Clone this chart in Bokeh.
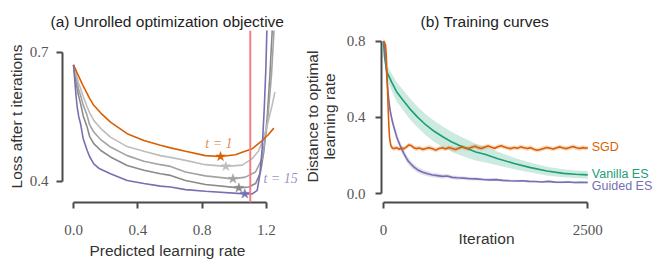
from bokeh.plotting import figure
from bokeh.layouts import row
from bokeh.models import Label, Span, FixedTicker, Range1d, NumeralTickFormatter, Title
from bokeh.embed import file_html
from bokeh.resources import INLINE

# ---------------- Panel (a): unrolled optimization objective ----------------
optimal_lr = 1.1

lr_t1 = [0, 0.01, 0.023, 0.044, 0.06, 0.085, 0.1, 0.126, 0.17, 0.23, 0.334, 0.438, 0.541, 0.604, 0.697, 0.821, 0.915, 1.008, 1.05, 1.112, 1.174, 1.21, 1.247]
loss_t1 = [0.671, 0.663, 0.652, 0.635, 0.622, 0.604, 0.593, 0.577, 0.559, 0.538, 0.511, 0.495, 0.484, 0.478, 0.470, 0.460, 0.458, 0.462, 0.468, 0.476, 0.495, 0.508, 0.524]

lr_ta = [0, 0.01, 0.023, 0.03, 0.044, 0.06, 0.085, 0.1, 0.126, 0.17, 0.23, 0.334, 0.438, 0.541, 0.604, 0.697, 0.821, 0.948, 1.05, 1.112, 1.15, 1.174, 1.205, 1.236, 1.253]
loss_ta = [0.671, 0.660, 0.640, 0.630, 0.616, 0.598, 0.573, 0.560, 0.542, 0.523, 0.503, 0.481, 0.470, 0.460, 0.456, 0.449, 0.439, 0.435, 0.438, 0.453, 0.470, 0.491, 0.530, 0.577, 0.608]

lr_tb = [0, 0.01, 0.023, 0.03, 0.044, 0.06, 0.085, 0.1, 0.126, 0.17, 0.23, 0.334, 0.438, 0.541, 0.604, 0.697, 0.821, 0.992, 1.07, 1.133, 1.174, 1.205, 1.232, 1.247, 1.255]
loss_tb = [0.671, 0.655, 0.630, 0.617, 0.600, 0.578, 0.553, 0.532, 0.515, 0.497, 0.480, 0.460, 0.447, 0.439, 0.435, 0.422, 0.413, 0.406, 0.410, 0.422, 0.453, 0.530, 0.647, 0.747, 0.80]

lr_tc = [0, 0.01, 0.023, 0.03, 0.044, 0.06, 0.085, 0.1, 0.126, 0.17, 0.23, 0.334, 0.438, 0.541, 0.604, 0.697, 0.821, 1.029, 1.091, 1.133, 1.164, 1.184, 1.205, 1.222, 1.236, 1.242]
loss_tc = [0.671, 0.645, 0.615, 0.602, 0.581, 0.553, 0.526, 0.505, 0.488, 0.472, 0.457, 0.437, 0.426, 0.418, 0.414, 0.402, 0.393, 0.385, 0.387, 0.395, 0.422, 0.468, 0.546, 0.647, 0.747, 0.80]

lr_t15 = [0, 0.005, 0.01, 0.016, 0.023, 0.033, 0.044, 0.06, 0.085, 0.1, 0.126, 0.16, 0.23, 0.334, 0.438, 0.541, 0.604, 0.697, 0.821, 1.066, 1.112, 1.143, 1.159, 1.174, 1.187, 1.197, 1.203, 1.207]
loss_t15 = [0.671, 0.648, 0.625, 0.598, 0.573, 0.550, 0.534, 0.500, 0.472, 0.458, 0.441, 0.430, 0.418, 0.402, 0.395, 0.389, 0.387, 0.381, 0.377, 0.371, 0.371, 0.379, 0.414, 0.476, 0.569, 0.662, 0.747, 0.80]

star_lr = [0.915, 0.948, 0.992, 1.029, 1.066]
star_loss = [0.458, 0.435, 0.406, 0.385, 0.371]

# ---------------- Panel (b): training curves ----------------
sgd_it = [0, 10, 25, 35, 45, 55, 65, 75, 90, 110, 130, 160, 190, 220, 250, 280, 310, 340, 370, 400,
          440, 480, 520, 560, 600, 640, 680, 720, 760, 800, 840, 880, 920, 960, 1000, 1040, 1080, 1120,
          1160, 1200, 1240, 1280, 1320, 1360, 1400, 1440, 1480, 1520, 1560, 1600, 1640, 1680, 1720,
          1760, 1800, 1840, 1880, 1920, 1960, 2000, 2040, 2080, 2120, 2160, 2200, 2240, 2280, 2320,
          2360, 2400, 2440, 2480, 2500]
sgd_dist = [0.80, 0.795, 0.78, 0.72, 0.60, 0.47, 0.36, 0.29, 0.252, 0.238, 0.236, 0.241, 0.233, 0.238, 0.236, 0.244, 0.255, 0.252, 0.241, 0.236,
            0.239, 0.232, 0.237, 0.241, 0.235, 0.228, 0.236, 0.240, 0.234, 0.242, 0.236, 0.231, 0.238, 0.244, 0.239, 0.236, 0.243, 0.248,
            0.241, 0.237, 0.244, 0.250, 0.243, 0.238, 0.246, 0.251, 0.244, 0.239, 0.236, 0.242, 0.238, 0.245, 0.240,
            0.236, 0.241, 0.233, 0.227, 0.231, 0.237, 0.242, 0.238, 0.234, 0.240, 0.245, 0.239, 0.236, 0.242, 0.247,
            0.240, 0.236, 0.241, 0.238, 0.240]
sgd_spread = 0.012

vanilla_it = [0, 12, 40, 100, 160, 240, 320, 420, 520, 620, 730, 830, 930, 1030, 1130, 1250, 1400, 1600, 1800, 2000, 2200, 2350, 2500]
vanilla_dist = [0.80, 0.72, 0.64, 0.585, 0.535, 0.49, 0.446, 0.40, 0.36, 0.327, 0.297, 0.272, 0.252, 0.235, 0.218, 0.205, 0.183, 0.158, 0.136, 0.118, 0.106, 0.101, 0.098]
vanilla_spread = [0.02, 0.03, 0.035, 0.045, 0.05, 0.053, 0.055, 0.055, 0.055, 0.055, 0.054, 0.052, 0.05, 0.048, 0.044, 0.042, 0.036, 0.03, 0.026, 0.023, 0.021, 0.02, 0.02]

guided_it = [0, 15, 30, 50, 65, 80, 100, 120, 140, 160, 180, 200, 225, 250, 275, 300, 335, 370, 420, 480, 540, 600, 660, 720,
             780, 840, 900, 980, 1060, 1140, 1220, 1300, 1380, 1460, 1540, 1620, 1700, 1780, 1860, 1940, 2020, 2100, 2180, 2260, 2340, 2420, 2500]
guided_dist = [0.80, 0.77, 0.68, 0.56, 0.49, 0.44, 0.395, 0.36, 0.33, 0.30, 0.277, 0.256, 0.232, 0.21, 0.19, 0.172, 0.155, 0.14, 0.124, 0.112, 0.104, 0.097, 0.094, 0.090,
               0.092, 0.085, 0.083, 0.081, 0.078, 0.077, 0.074, 0.072, 0.073, 0.069, 0.067, 0.066, 0.067, 0.064, 0.063, 0.061, 0.064, 0.060, 0.059, 0.061, 0.058, 0.059, 0.058]
guided_spread = [0.01, 0.012, 0.015, 0.018, 0.02, 0.02, 0.02, 0.02, 0.02, 0.02, 0.02, 0.02, 0.02, 0.02, 0.019, 0.018, 0.017, 0.016, 0.015, 0.014, 0.013, 0.012, 0.012, 0.011,
                 0.011, 0.01, 0.01, 0.009, 0.009, 0.008, 0.008, 0.008, 0.007, 0.007, 0.007, 0.007, 0.006, 0.006, 0.006, 0.006, 0.006, 0.006, 0.006, 0.006, 0.006, 0.006, 0.006]

ORANGE = "#d95f02"
GREEN = "#1b9e77"
PURPLE = "#7570b3"
GRAYS = ["#bdbdbd", "#a3a3a3", "#8a8a8a"]
SANS = "Liberation Sans"
SERIF = "Liberation Serif"
AXIS_COLOR = "#4a4a4a"


def style(p, title, offset):
    p.title.text = title
    p.title.align = "left"
    p.title.offset = offset
    p.title.text_font = SANS
    p.title.text_font_size = "15.5px"
    p.title.text_font_style = "normal"
    p.title.text_color = "#222222"
    p.title.standoff = 2
    p.outline_line_color = None
    p.grid.visible = False
    p.background_fill_color = "white"
    p.border_fill_color = "white"
    for ax in (p.xaxis[0], p.yaxis[0]):
        ax.axis_line_color = AXIS_COLOR
        ax.axis_line_width = 2
        ax.major_tick_line_color = AXIS_COLOR
        ax.major_tick_line_width = 2
        ax.major_tick_out = 6
        ax.major_tick_in = 0
        ax.minor_tick_line_color = None
        ax.major_label_text_font = SERIF
        ax.major_label_text_font_size = "15px"
        ax.major_label_text_color = "#555555"
        ax.axis_label_text_font = SANS
        ax.axis_label_text_font_size = "15.5px"
        ax.axis_label_text_font_style = "normal"
        ax.axis_label_text_color = "#333333"


def x_title(p, text, offset, standoff):
    p.add_layout(Title(text=text, align="left", offset=offset, standoff=standoff,
                       vertical_align="top", text_font=SANS, text_font_size="15.5px",
                       text_font_style="normal", text_color="#333333"), "below")


# ---- panel a ----
pa = figure(width=300, height=269, x_range=Range1d(-0.0685, 1.4126), y_range=Range1d(0.351, 0.751),
            output_backend="svg", toolbar_location=None,
            min_border_left=62, min_border_right=0, min_border_top=30, min_border_bottom=67)
style(pa, "(a) Unrolled optimization objective", -12)
pa.xaxis.bounds = (0, 1.2)
pa.yaxis.bounds = (0.4, 0.7)
pa.xaxis.ticker = FixedTicker(ticks=[0, 0.4, 0.8, 1.2])
pa.yaxis.ticker = FixedTicker(ticks=[0.4, 0.7])
pa.xaxis.formatter = NumeralTickFormatter(format="0.0")
pa.yaxis.formatter = NumeralTickFormatter(format="0.0")
pa.yaxis.axis_label = "Loss after t iterations"
pa.xaxis.major_label_standoff = 16
pa.yaxis.major_label_standoff = 8
pa.yaxis.axis_label_standoff = 2
x_title(pa, "Predicted learning rate", 27, 8)

pa.line(lr_tc, loss_tc, line_color=GRAYS[2], line_width=1.6)
pa.line(lr_tb, loss_tb, line_color=GRAYS[1], line_width=1.6)
pa.line(lr_ta, loss_ta, line_color=GRAYS[0], line_width=1.6)
pa.line(lr_t1, loss_t1, line_color=ORANGE, line_width=1.6)
pa.line(lr_t15, loss_t15, line_color=PURPLE, line_width=1.6)
pa.add_layout(Span(location=optimal_lr, dimension="height", line_color="#f08080", line_width=2))
pa.scatter(star_lr, star_loss, marker="star", size=10,
           color=[ORANGE, GRAYS[0], GRAYS[1], GRAYS[2], PURPLE], line_width=0.5)
pa.add_layout(Label(x=0.82, y=0.488, text="t = 1", text_font=SERIF, text_font_style="italic",
                    text_font_size="14px", text_color=ORANGE, text_alpha=0.75,
                    text_baseline="middle", text_align="left"))
pa.add_layout(Label(x=1.182, y=0.407, text="t = 15", text_font=SERIF, text_font_style="italic",
                    text_font_size="14px", text_color=PURPLE, text_alpha=0.75,
                    text_baseline="middle", text_align="left"))

# ---- panel b ----
pb = figure(width=364, height=269, x_range=Range1d(-24.4, 3390), y_range=Range1d(-0.047, 0.856),
            output_backend="svg", toolbar_location=None,
            min_border_left=80, min_border_right=4, min_border_top=30, min_border_bottom=67)
style(pb, "(b) Training curves", 39)
pb.xaxis.bounds = (0, 2500)
pb.yaxis.bounds = (0, 0.8)
pb.xaxis.ticker = FixedTicker(ticks=[0, 2500])
pb.yaxis.ticker = FixedTicker(ticks=[0, 0.4, 0.8])
pb.xaxis.formatter = NumeralTickFormatter(format="0")
pb.yaxis.formatter = NumeralTickFormatter(format="0.0")
pb.yaxis.axis_label = "Distance to optimal\nlearning rate"
pb.yaxis.axis_label_text_line_height = 1.0
pb.xaxis.major_label_standoff = 16
pb.yaxis.major_label_standoff = 10
pb.yaxis.axis_label_standoff = 6
x_title(pb, "Iteration", 77, -16)

v_lo = [m - s for m, s in zip(vanilla_dist, vanilla_spread)]
v_hi = [m + s for m, s in zip(vanilla_dist, vanilla_spread)]
g_lo = [m - s for m, s in zip(guided_dist, guided_spread)]
g_hi = [m + s for m, s in zip(guided_dist, guided_spread)]
s_lo = [m - sgd_spread for m in sgd_dist]
s_hi = [m + sgd_spread for m in sgd_dist]

pb.varea(x=vanilla_it, y1=v_lo, y2=v_hi, fill_color=GREEN, fill_alpha=0.22)
pb.varea(x=guided_it, y1=g_lo, y2=g_hi, fill_color=PURPLE, fill_alpha=0.22)
pb.varea(x=sgd_it, y1=s_lo, y2=s_hi, fill_color=ORANGE, fill_alpha=0.22)
pb.line(vanilla_it, vanilla_dist, line_color=GREEN, line_width=1.6)
pb.line(guided_it, guided_dist, line_color=PURPLE, line_width=1.6)
pb.line(sgd_it, sgd_dist, line_color=ORANGE, line_width=1.6)

for txt, yv, col in (("SGD", 0.242, ORANGE), ("Vanilla ES", 0.102, GREEN), ("Guided ES", 0.0405, PURPLE)):
    pb.add_layout(Label(x=2549, y=yv, text=txt, text_font=SANS, text_font_size="12.5px",
                        text_color=col, text_baseline="middle", text_align="left"))

layout = row(pa, pb)
open("out.html", "w").write(file_html(layout, INLINE))
